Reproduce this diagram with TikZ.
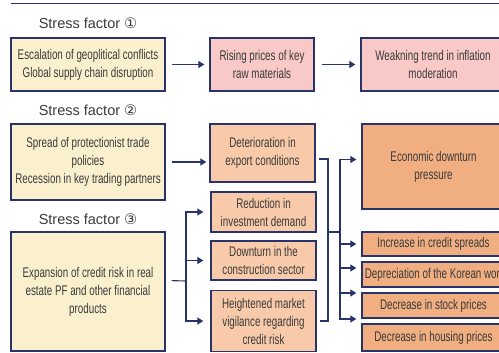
\documentclass[tikz,border=0pt]{standalone}
\usepackage{fontspec}
\setmainfont{Liberation Sans}
\newfontfamily\narrowfont{Liberation Sans}[FakeStretch=0.70]
\newfontfamily\circfont{DejaVu Sans}
\usetikzlibrary{arrows.meta}

\definecolor{navy}{HTML}{28346A}
\definecolor{txtgray}{HTML}{3A3A3A}
\definecolor{causefill}{HTML}{FBF0CE}
\definecolor{pricefill}{HTML}{F8C9C6}
\definecolor{midfill}{HTML}{F8CAAA}
\definecolor{effectfill}{HTML}{F0AE81}

\tikzset{
  box/.style={draw=navy, line width=1.3pt, inner sep=0pt, align=center, text=txtgray,
    font=\narrowfont\fontsize{14}{18}\selectfont},
  factor/.style={text=txtgray, inner sep=0pt, font=\fontsize{14.5}{17}\selectfont},
  link/.style={draw=navy, line width=1.1pt},
  arr/.style={link, -{Triangle[length=6pt,width=7pt]}, shorten >=5pt},
}

\begin{document}
\begin{tikzpicture}[x=1pt,y=-1pt]
    \useasboundingbox (0,0) rectangle (499,353);
    \clip (0,0) rectangle (499,353);
    \draw[navy, line width=1pt] (11,4) -- (499,4);
    %STRESS FACTOR 1:
     \node[factor] (sf1) at (88,23) {Stress factor {\circfont ①}};
     \node[box, fill=causefill, minimum width=154pt, minimum height=53pt] (geo) at (88,64.5)
       {Escalation of geoplitical conflicts\\Global supply chain disruption};
     \node[box, fill=pricefill, minimum width=104pt, minimum height=53pt] (rise) at (262,64.5)
       {Rising prices of key\\raw materials};
     \node[box, fill=pricefill, minimum width=144pt, minimum height=53pt] (weak) at (433,64.5)
       {Weakning trend in inflation\\moderation};
     %chain ----------------------------
     \draw[arr, shorten <=6pt] (geo) -- (rise);
     \draw[arr, shorten <=7pt] (rise) -- (weak);
    %STRESS FACTOR 2:
     \node[factor] (sf2) at (88,110) {Stress factor {\circfont ②}};
     \node[box, fill=causefill, minimum width=154pt, minimum height=76pt] (trade) at (88,162)
       {Spread of protectionist trade\\policies\\Recession in key trading partners};
     \node[box, fill=midfill, minimum width=105pt, minimum height=58pt] (det) at (262.5,153)
       {Deterioration in\\export conditions};
     \node[box, fill=effectfill, minimum width=143pt, minimum height=85pt] (econ) at (433.5,166.5)
       {Economic downturn\\pressure};
     %chain ----------------------------
     \draw[arr, shorten <=6pt, shorten >=3pt] (trade.east) -- (trade.east -| det.west);
    %STRESS FACTOR 3:
     \node[factor] (sf3) at (88,219) {Stress factor {\circfont ③}};
     \node[box, fill=causefill, minimum width=154pt, minimum height=119pt] (credit) at (88,291.5)
       {Expansion of credit risk in real\\estate PF and other financial\\products};
     \node[box, fill=midfill, minimum width=105pt, minimum height=40pt] (inv) at (263.5,212)
       {Reduction in\\investment demand};
     \node[box, fill=midfill, minimum width=105pt, minimum height=39pt] (cons) at (263.5,260.5)
       {Downturn in the\\construction sector};
     \node[box, fill=midfill, minimum width=105pt, minimum height=61pt] (vig) at (263.5,321)
       {Heightened market\\vigilance regarding\\credit risk};
     %chain ----------------------------
     \coordinate (fan) at (186,281);
     \draw[link, shorten <=6pt] ([yshift=11pt]credit.east) -- (fan);
     \draw[arr, shorten >=7pt] (fan) |- (inv.west);
     \draw[arr, shorten >=7pt] (fan) |- (cons.west);
     \draw[arr, shorten >=7pt] (fan) |- (vig.west);
    %MARKET EFFECTS:
     \node[box, fill=effectfill, minimum width=143pt, minimum height=24pt] (spread) at (433.5,244)
       {Increase in credit spreads};
     \node[box, fill=effectfill, minimum width=143pt, minimum height=25pt] (won) at (433.5,274.5)
       {Depreciation of the Korean won};
     \node[box, fill=effectfill, minimum width=143pt, minimum height=25pt] (stock) at (433.5,305.5)
       {Decrease in stock prices};
     \node[box, fill=effectfill, minimum width=143pt, minimum height=27pt] (house) at (433.5,337.5)
       {Decrease in housing prices};
     %bus --------------------------------
     \coordinate (busL) at (328,232);
     \coordinate (busR) at (340,232);
     \draw[link, shorten <=3pt, shorten >=3pt] ([yshift=-6pt]det.east) -| (busL) |- (vig.east);
     \draw[link] (busL) -- (busR);
     \draw[arr] (busR) |- ([yshift=7pt]econ.west);
     \draw[arr] (busR) |- (spread.west);
     \draw[arr] (busR) |- ([yshift=6.5pt]won.west);
     \draw[arr] (busR) |- ([yshift=12.5pt]stock.west);
     \draw[arr] (busR) |- ([yshift=18.5pt]house.west);
    \end{tikzpicture}
\end{document}
